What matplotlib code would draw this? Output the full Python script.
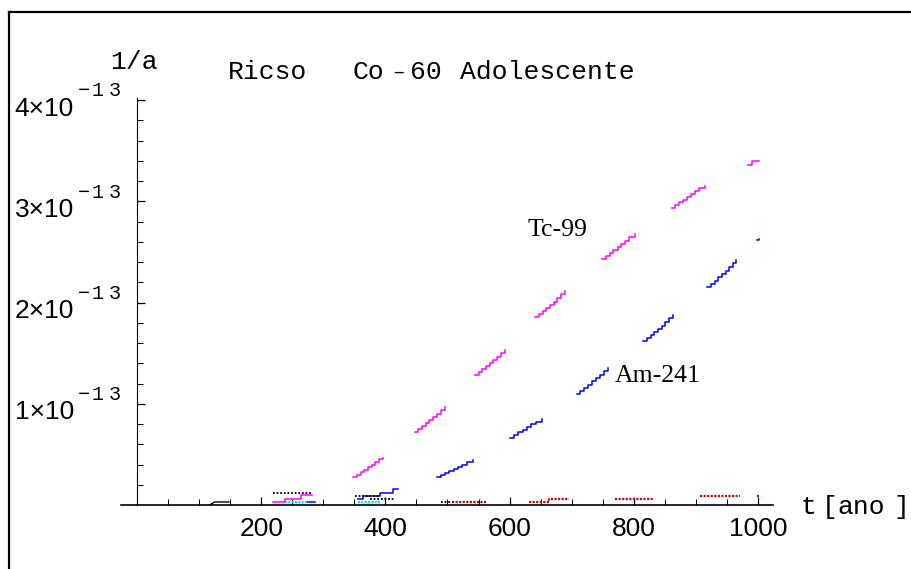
"""Ricso Co-60 Adolescente - staircase curves."""

import matplotlib.pyplot as plt
import matplotlib.transforms as mtransforms
from matplotlib.lines import Line2D

SCALE = 1e-13  # y values below are in units of 1e-13 1/a

# Tc-99 (magenta) segments: (t, y)
tc99 = [
    ([348, 354, 360, 366, 372, 378, 384, 390, 396], [0.28, 0.30, 0.33, 0.35, 0.38, 0.40, 0.42, 0.45, 0.46]),
    ([448, 453, 459, 465, 471, 477, 483, 489, 496], [0.72, 0.75, 0.78, 0.81, 0.84, 0.87, 0.90, 0.94, 0.97]),
    ([544, 550, 556, 562, 568, 574, 580, 586, 593], [1.28, 1.31, 1.34, 1.37, 1.40, 1.43, 1.46, 1.50, 1.53]),
    ([641, 647, 653, 659, 665, 671, 677, 683, 689], [1.86, 1.89, 1.92, 1.95, 1.98, 2.01, 2.04, 2.08, 2.11]),
    ([749, 755, 761, 767, 774, 780, 786, 793, 802], [2.43, 2.46, 2.49, 2.52, 2.55, 2.58, 2.61, 2.65, 2.68]),
    ([861, 867, 873, 880, 886, 892, 898, 905, 915], [2.93, 2.96, 2.99, 3.01, 3.04, 3.07, 3.10, 3.13, 3.15]),
    ([984, 991, 1001], [3.36, 3.40, 3.40]),
    ([219, 238, 264, 282], [0.03, 0.06, 0.10, 0.10]),
]

# Am-241 (blue) segments
am241 = [
    ([483, 489, 496, 503, 510, 517, 524, 531, 541], [0.28, 0.30, 0.32, 0.34, 0.36, 0.38, 0.40, 0.42, 0.44]),
    ([601, 607, 614, 621, 628, 635, 642, 652], [0.66, 0.69, 0.72, 0.74, 0.77, 0.80, 0.82, 0.85]),
    ([708, 714, 720, 727, 733, 739, 745, 752, 758], [1.10, 1.13, 1.16, 1.19, 1.22, 1.25, 1.28, 1.32, 1.35]),
    ([815, 821, 827, 833, 839, 845, 851, 857, 863], [1.62, 1.65, 1.68, 1.71, 1.74, 1.77, 1.81, 1.85, 1.88]),
    ([918, 924, 930, 936, 942, 948, 954, 960, 965], [2.15, 2.18, 2.21, 2.25, 2.28, 2.31, 2.35, 2.39, 2.42]),
    ([998, 1001], [2.62, 2.63]),
    ([274, 287], [0.03, 0.03]),
    ([356, 364, 391, 412, 420], [0.06, 0.09, 0.12, 0.16, 0.16]),
]

# other nuclides near zero
black = [
    ([219, 282], [0.12, 0.12]),
    ([351, 391], [0.09, 0.09]),
    ([375, 415], [0.06, 0.06]),
    ([490, 507], [0.03, 0.03]),
]
black_ramp = ([117, 125, 148], [0.0, 0.03, 0.03])
cyan = [
    ([238, 274], [0.03, 0.03]),
    ([356, 391], [0.03, 0.03]),
]
red = [
    ([507, 562], [0.03, 0.03]),
    ([631, 663, 696], [0.025, 0.06, 0.06]),
    ([770, 832], [0.06, 0.06]),
    ([907, 971], [0.09, 0.09]),
    ([998, 1001], [0.09, 0.09]),
]

x_ticks = [200, 400, 600, 800, 1000]
y_ticks = [1, 2, 3, 4]

W, H = 912, 569
fig = plt.figure(figsize=(W / 100, H / 100), dpi=100)
ax = fig.add_axes([121 / W, (H - 505) / H, (773 - 121) / W, (505 - 98) / H])
ax.set_xlim(-25.8, 1024.2)
ax.set_ylim(0, 4.02 * SCALE)

for t, y in tc99:
    ax.plot(t, [v * SCALE for v in y], drawstyle="steps-post", color="#ff00ff", lw=1.1)
for t, y in am241:
    ax.plot(t, [v * SCALE for v in y], drawstyle="steps-post", color="#0000ff", lw=1.1)
for t, y in black:
    ax.plot(t, [v * SCALE for v in y], drawstyle="steps-post", color="black", lw=1.3, ls=(0, (1, 1)))
ax.plot(black_ramp[0], [v * SCALE for v in black_ramp[1]], color="black", lw=1.0)
for t, y in cyan:
    ax.plot(t, [v * SCALE for v in y], drawstyle="steps-post", color="#00e5e5", lw=1.5, ls=(0, (1, 0.6)))
for t, y in red:
    ax.plot(t, [v * SCALE for v in y], drawstyle="steps-post", color="#b01010", lw=1.6, ls=(0, (1, 0.6)))

ax.spines["top"].set_visible(False)
ax.spines["right"].set_visible(False)
ax.spines["left"].set_position(("data", 0))
ax.spines["left"].set_linewidth(0.8)
ax.spines["bottom"].set_linewidth(1.2)

ax.set_xticks(x_ticks)
ax.set_xticks(range(50, 1001, 50), minor=True)
ax.set_xticklabels([str(v) for v in x_ticks], fontsize=19, family="Liberation Sans")
ax.set_yticks([v * SCALE for v in y_ticks])
ax.set_yticks([v * 0.2 * SCALE for v in range(1, 20)], minor=True)
ax.set_yticklabels([])
ax.tick_params(axis="x", which="major", direction="in", length=6, width=0.9, pad=9)
ax.tick_params(axis="x", which="minor", direction="in", length=4, width=0.7)
ax.tick_params(axis="y", which="major", direction="in", length=6, width=0.9)
ax.tick_params(axis="y", which="minor", direction="in", length=4, width=0.7)

# y tick labels like 4x10^-13
trans = mtransforms.blended_transform_factory(fig.transFigure, ax.transData)
for v in y_ticks:
    ax.text(74 / W, (v - 0.085) * SCALE, f"{v}\u00d710", transform=trans, ha="right", va="center",
            fontsize=19, family="Liberation Sans")
    for ch, px in (("\u2212", 84), ("1", 98), ("3", 115)):
        ax.text(px / W, (v + 0.09) * SCALE, ch, transform=trans, ha="center",
                va="center", fontsize=14.5, family="Liberation Mono")

# labels
mono = "Liberation Mono"
fig.text(110 / W, 1 - 62 / H, "1/a", fontsize=19, family=mono, va="center")
fig.text(228 / W, 1 - 72 / H, "Ricso", fontsize=19, family=mono, va="center")
fig.text(353 / W, 1 - 72 / H, "Co", fontsize=19, family=mono, va="center")
fig.text(398 / W, 1 - 72 / H, "\u2013", fontsize=15, family=mono, va="center", ha="center")
fig.text(410 / W, 1 - 72 / H, "60", fontsize=19, family=mono, va="center")
fig.text(460 / W, 1 - 72 / H, "Adolescente", fontsize=19, family=mono, va="center")
for s, px in (("t", 808), ("[", 830), ("ano", 861), ("]", 901)):
    fig.text(px / W, 1 - 507 / H, s, fontsize=19, family=mono, va="center", ha="center")

fig.text(528 / W, 1 - 236 / H, "Tc-99", fontsize=18.5, family="Liberation Serif")
fig.text(615 / W, 1 - 382 / H, "Am-241", fontsize=18.5, family="Liberation Serif")

# outer frame
fig.add_artist(Line2D([9 / W, 9 / W], [0, 1 - 12 / H], color="black", lw=1.6))
fig.add_artist(Line2D([9 / W, 1], [1 - 12 / H, 1 - 12 / H], color="black", lw=1.6))

fig.savefig("out.png", dpi=100)
plt.close(fig)
